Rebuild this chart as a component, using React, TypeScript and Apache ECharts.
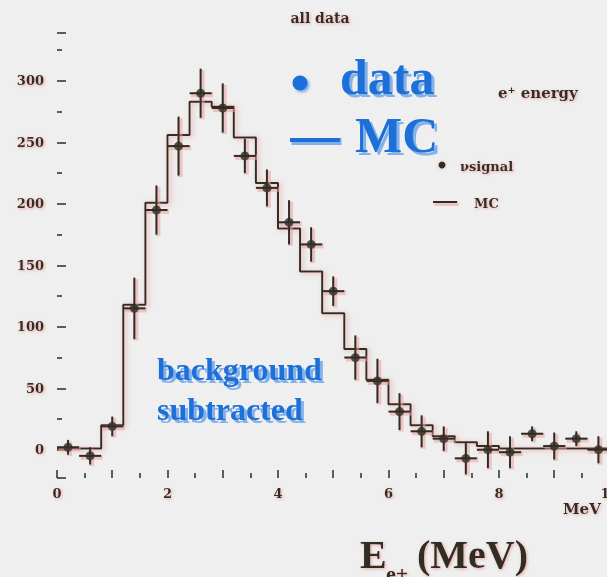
import { useEffect, useRef } from "react";
import * as echarts from "echarts";

// Positron energy spectrum: background-subtracted data points vs. MC histogram.

// Data points (bin centres, MeV), counts and vertical errors
const pointEnergy = [0.2, 0.6, 1.0, 1.4, 1.8, 2.2, 2.6, 3.0, 3.4, 3.8, 4.2, 4.6, 5.0, 5.4, 5.8, 6.2, 6.6, 7.0, 7.4, 7.8, 8.2, 8.6, 9.0, 9.4, 9.8];
const pointCounts = [2, -5, 19, 115, 195, 247, 290, 278, 239, 213, 185, 167, 129, 75, 56, 31, 15, 9, -7, 0, -2, 13, 3, 9, 0];
const pointErrors = [6, 7, 8, 25, 20, 24, 20, 20, 14, 15, 18, 14, 12, 18, 18, 15, 13, 10, 13, 15, 13, 6, 11, 6, 11];
const binHalfWidth = 0.2;

// MC histogram: lower bin edges (MeV) and bin contents
const mcBinStart = [0, 0.4, 0.8, 1.2, 1.6, 2.0, 2.4, 2.8, 3.2, 3.6, 4.0, 4.4, 4.8, 5.2, 5.6, 6.0, 6.4, 6.8, 7.2, 7.6, 8.0, 8.4, 8.8, 9.2, 9.6];
const mcLevels = [1, 1, 20, 118, 201, 256, 283, 279, 254, 217, 180, 145, 111, 82, 57, 37, 20, 11, 6, 3, 1, 1, 1, 1, 1];

const xMin = 0;
const xMax = 10.1;
const yMin = -23;
const yMax = 339;

const INK = "#2d2d24";
const HALO = "rgba(232,150,150,0.8)";
const HALO_LINE = "rgba(236,160,160,0.55)";
const BLUE = "#1c6fd8";
const BLUE_SHADOW = "rgba(120,170,232,0.9)";
const SERIF = "'Liberation Serif', 'Times New Roman', serif";
const SMALL = "'DejaVu Serif', serif";

const haloText = {
  textShadowColor: HALO,
  textShadowBlur: 3,
  textShadowOffsetX: 1,
  textShadowOffsetY: 1,
};

const blueText = (text: string, x: number, y: number, size: number) => ({
  type: "text",
  x,
  y,
  style: {
    text,
    fill: BLUE,
    font: `bold ${size}px ${SERIF}`,
    textAlign: "left",
    textVerticalAlign: "middle",
    textShadowColor: BLUE_SHADOW,
    textShadowBlur: 1,
    textShadowOffsetX: 3,
    textShadowOffsetY: 3,
  },
});

const inkText = (text: string, x: number, y: number, font: string, align = "left") => ({
  type: "text",
  x,
  y,
  style: {
    text,
    fill: INK,
    font,
    textAlign: align,
    textVerticalAlign: "middle",
    ...haloText,
  },
});

// a stroke with a soft pink halo drawn underneath it
const haloLine = (x1: number, y1: number, x2: number, y2: number, color: string, width: number, halo: string) => [
  {
    type: "line",
    shape: { x1: x1 + 1.5, y1: y1 + 1.5, x2: x2 + 1.5, y2: y2 + 1.5 },
    style: { stroke: halo, lineWidth: width + 3 },
  },
  {
    type: "line",
    shape: { x1, y1, x2, y2 },
    style: { stroke: color, lineWidth: width },
  },
];

export default function App() {
  const ref = useRef<HTMLDivElement>(null);

  useEffect(() => {
    if (!ref.current) return;
    const chart = echarts.init(ref.current, undefined, { renderer: "svg" });

    const mcData = mcBinStart.map((x, i) => [x, mcLevels[i]]);
    mcData.push([xMax, mcLevels[mcLevels.length - 1]]);

    const points = pointEnergy.map((x, i) => [x, pointCounts[i], pointErrors[i]]);

    const axisLineStyle = {
      color: INK,
      width: 2,
      shadowColor: HALO,
      shadowBlur: 4,
      shadowOffsetX: 1,
      shadowOffsetY: 1,
    };

    const labelStyle = {
      color: INK,
      fontFamily: SMALL,
      fontWeight: "bold",
      fontSize: 13,
      ...haloText,
    };

    chart.setOption({
      animation: false,
      backgroundColor: "#eeefee",
      grid: { left: 57, top: 33, right: -8, bottom: 99, outerBoundsMode: "none", containLabel: false },
      xAxis: [
        {
          type: "value",
          min: xMin,
          max: xMax,
          interval: 1,
          axisLine: { show: true, onZero: false, lineStyle: axisLineStyle },
          axisTick: { show: true, inside: true, length: 8, lineStyle: { color: INK, width: 1.5 } },
          minorTick: { show: true, splitNumber: 2, length: 5, lineStyle: { color: INK, width: 1.5 } },
          splitLine: { show: false },
          axisLabel: {
            margin: 9,
            ...labelStyle,
            formatter: (v: number) => (v % 2 === 0 && v <= 10 ? String(v) : ""),
          },
        },
        {
          type: "value",
          position: "top",
          min: xMin,
          max: xMax,
          axisLine: { show: true, onZero: false, lineStyle: axisLineStyle },
          axisTick: { show: false },
          axisLabel: { show: false },
          splitLine: { show: false },
        },
      ],
      yAxis: {
        type: "value",
        min: yMin,
        max: yMax,
        splitNumber: 7,
        axisLine: { show: true, onZero: false, lineStyle: axisLineStyle },
        axisTick: { show: true, inside: true, length: 9, lineStyle: { color: INK, width: 1.5 } },
        minorTick: { show: true, splitNumber: 2, length: 5, lineStyle: { color: INK, width: 1.5 } },
        splitLine: { show: false },
        axisLabel: {
          margin: 13,
          ...labelStyle,
          formatter: (v: number) => (v >= 0 && v % 50 === 0 ? String(v) : ""),
        },
      },
      series: [
        {
          type: "line",
          name: "MC",
          step: "end",
          data: mcData,
          symbol: "none",
          z: 2,
          lineStyle: {
            color: INK,
            width: 2,
            shadowColor: HALO,
            shadowBlur: 5,
            shadowOffsetX: 2,
            shadowOffsetY: 1,
          },
        },
        {
          type: "custom",
          name: "errors",
          data: points,
          z: 3,
          renderItem: (_params: any, api: any) => {
            const x = api.value(0);
            const y = api.value(1);
            const e = api.value(2);
            const top = api.coord([x, y + e]);
            const bottom = api.coord([x, y - e]);
            const left = api.coord([x - binHalfWidth, y]);
            const right = api.coord([x + binHalfWidth, y]);
            return {
              type: "group",
              children: [
                ...haloLine(top[0], top[1], bottom[0], bottom[1], INK, 2, HALO_LINE),
                ...haloLine(left[0], left[1], right[0], right[1], INK, 2, HALO_LINE),
              ],
            };
          },
        },
        {
          type: "scatter",
          name: "data",
          data: points.map((p) => [p[0], p[1]]),
          symbol: "circle",
          symbolSize: 9,
          z: 4,
          itemStyle: { color: INK },
        },
      ],
      graphic: [
        inkText("all data", 320, 18, `bold 14px ${SMALL}`, "center"),
        inkText("e\u207A energy", 498, 93, `bold 15px ${SMALL}`),
        {
          type: "circle",
          shape: { cx: 442, cy: 165, r: 3.5 },
          style: { fill: INK, shadowColor: HALO, shadowBlur: 3 },
        },
        inkText("\u03BDsignal", 460, 166, `bold 13px ${SMALL}`),
        ...haloLine(433, 202, 457, 202, INK, 2, HALO_LINE),
        inkText("MC", 474, 203, `bold 13px ${SMALL}`),
        {
          type: "circle",
          shape: { cx: 300, cy: 83, r: 7.5 },
          style: { fill: BLUE, shadowColor: BLUE_SHADOW, shadowBlur: 2, shadowOffsetX: 2, shadowOffsetY: 2 },
        },
        blueText("data", 340, 77, 50),
        ...haloLine(290, 140, 340, 140, BLUE, 4, BLUE_SHADOW),
        blueText("MC", 355, 135, 50),
        blueText("background", 157, 369, 32),
        blueText("subtracted", 157, 409, 32),
        inkText("MeV", 563, 509, `bold 15px ${SMALL}`),
        inkText("E", 360, 554, `bold 40px ${SERIF}`),
        inkText("e+", 386, 573, `bold 22px ${SERIF}`),
        inkText("(MeV)", 417, 554, `bold 40px ${SERIF}`),
      ],
    });

    return () => chart.dispose();
  }, []);

  return (
    <div
      ref={ref}
      style={{ position: "fixed", left: 0, top: 0, width: 607, height: 577, overflow: "hidden" }}
    />
  );
}
